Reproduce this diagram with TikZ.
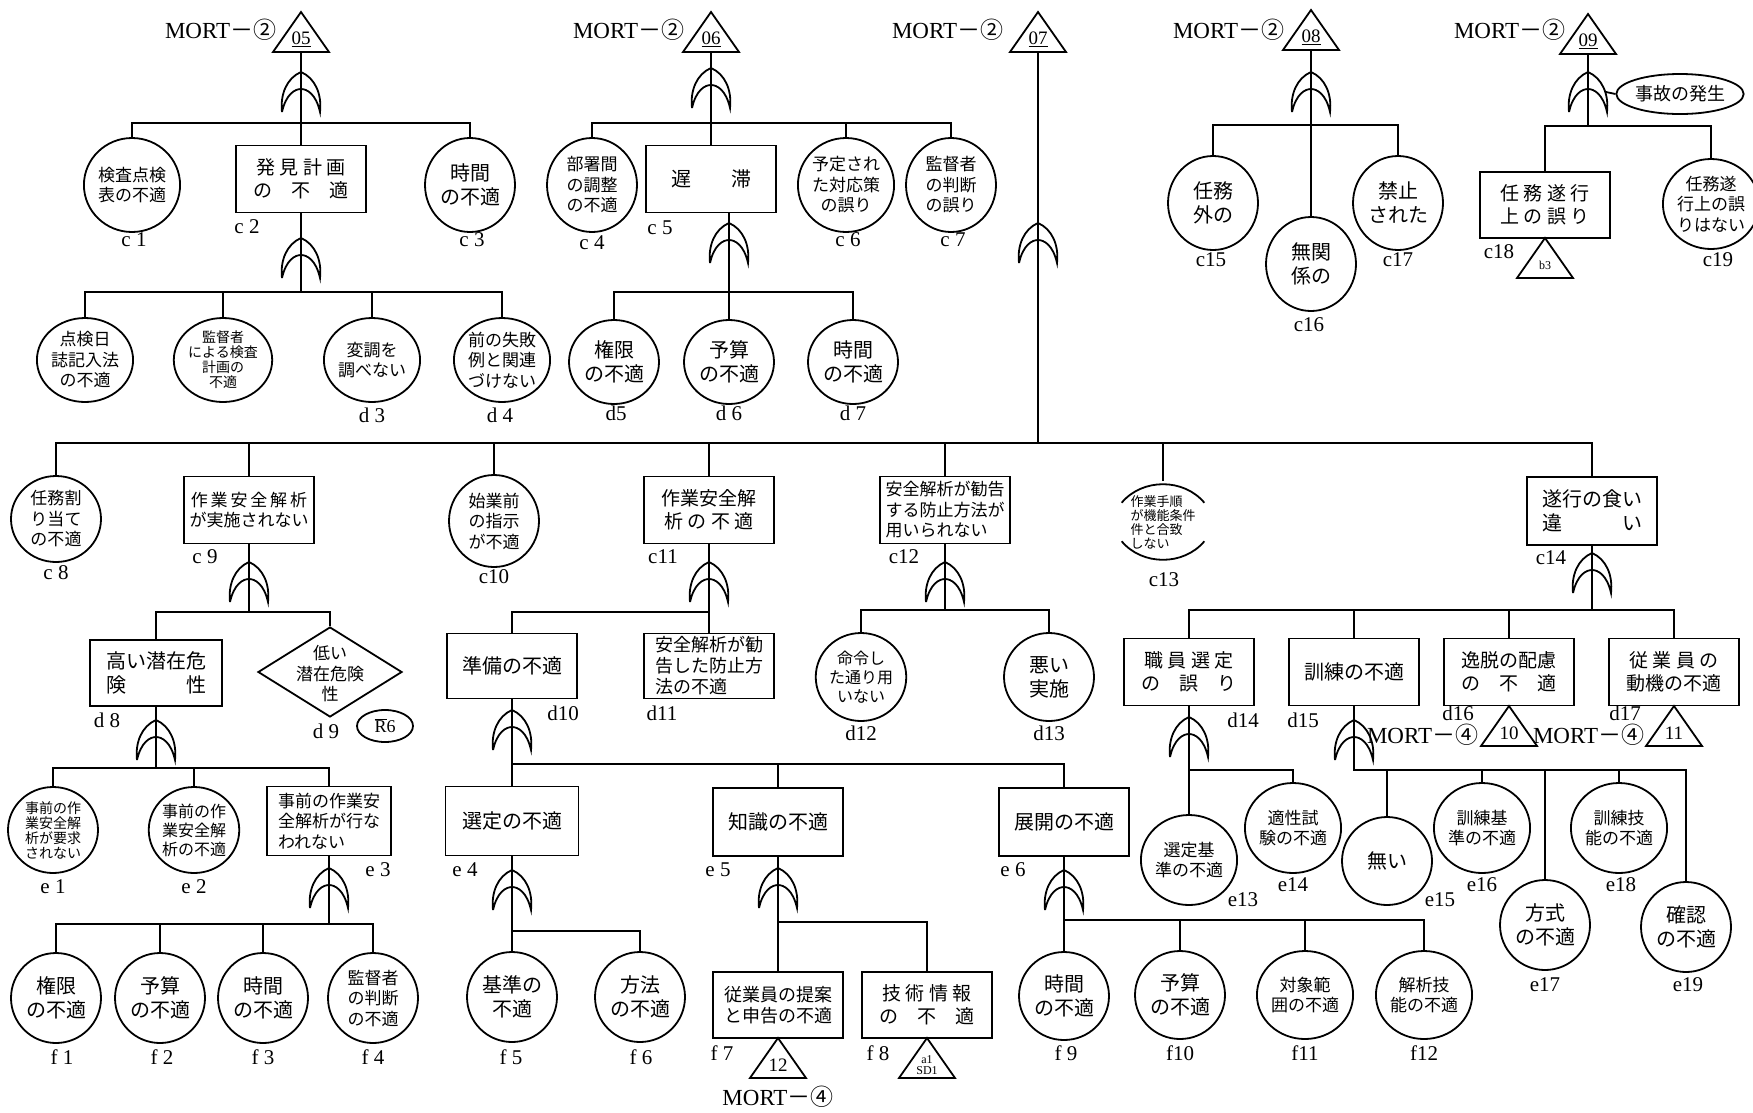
\documentclass[tikz,border=0pt]{standalone}
\usepackage{fontspec}
\setmainfont{Liberation Serif}
\newfontfamily\jp{Noto Sans CJK JP}
\usetikzlibrary{shapes.geometric}

\tikzset{
  ev/.style={ellipse,draw,inner sep=0pt,minimum width=90pt,minimum height=88pt,align=center},
  bx/.style={rectangle,draw,inner sep=2pt,minimum width=130pt,minimum height=67pt,align=center},
  lab/.style={inner sep=0pt,font=\fontsize{21}{21}\selectfont},
  mort/.style={inner sep=0pt,anchor=east,font=\fontsize{23}{23}\selectfont},
  j20/.style={font=\jp\fontsize{20}{24}\selectfont},
  j19/.style={font=\jp\fontsize{19}{23}\selectfont},
  j18/.style={font=\jp\fontsize{18}{21}\selectfont},
  j17/.style={font=\jp\fontsize{17}{20.5}\selectfont},
  j16/.style={font=\jp\fontsize{16}{19}\selectfont},
  j14/.style={font=\jp\fontsize{14}{15}\selectfont},
  j13/.style={font=\jp\fontsize{13}{14}\selectfont},
}

\begin{document}
\begin{tikzpicture}[x=1pt,y=-1pt,line width=1.8pt]
\useasboundingbox (0,0) rectangle (1753,1112);
\newcommand{\orgate}[3]{%
  \coordinate (#1) at (#2,#3);
  \draw[shift={(#2,#3)}] (-19,40) .. controls (-21,22) and (-14,6) .. (0,0)
    .. controls (14,6) and (21,22) .. (19,40)
    .. controls (15,22) and (6,17) .. (0,17)
    .. controls (-6,17) and (-15,22) .. (-19,40);
}
\newcommand{\xfer}[4]{%
  \draw (#2,#3) -- ++(28,40) -- ++(-56,0) -- cycle;
  \coordinate (#1-b) at (#2,#3+40);
  \node[inner sep=0pt,font=\fontsize{19}{19}\selectfont] (#1) at (#2,#3+27) {#4};
}

% MORT-2 05
\xfer{t05}{301}{12}{\underline{05}}
\node[mort] (m05) at (277,30) {MORT{\jp －②}};
\orgate{g05}{301}{72}
\coordinate (b05) at (301,123);
\node[ev,j17,minimum height=94pt] (c1) at (132,185) {検査点検\\表の不適};
\node[bx,j19] (c2) at (301,179) {発 見 計 画\\の　不　適};
\node[ev,j20,minimum height=94pt] (c3) at (470,185) {時間\\の不適};
\draw (t05-b) -- (g05) -- (c2.north);
\draw (c1.north) |- (b05) -| (c3.north);
\node[lab] (lc1) at (134,240) {c~1};
\node[lab] (lc2) at (247,227) {c~2};
\node[lab] (lc3) at (472,240) {c~3};

\orgate{gc2}{301}{238}
\coordinate (bc2) at (301,292);
\node[ev,j17,minimum height=84pt] (d1) at (85,360) {点検日\\誌記入法\\の不適};
\node[ev,j14,minimum height=84pt] (d2) at (223,360) {監督者\\による検査\\計画の\\不適};
\node[ev,j17,minimum height=84pt] (d3) at (372,360) {変調を\\調べない};
\node[ev,j17,minimum height=84pt] (d4) at (502,360) {前の失敗\\例と関連\\づけない};
\draw (c2.south) -- (bc2);
\draw (d1.north) |- (bc2) -| (d4.north);
\draw (d2.north) -- (d2.north |- bc2);
\draw (d3.north) -- (d3.north |- bc2);
\node[lab] (ld3) at (372,415) {d~3};
\node[lab] (ld4) at (500,415) {d~4};

% MORT-2 06
\xfer{t06}{711}{12}{\underline{06}}
\node[mort] (m06) at (685,30) {MORT{\jp －②}};
\orgate{g06}{711}{68}
\coordinate (b06) at (711,123);
\node[ev,j17,minimum height=94pt] (c4) at (592,185) {部署間\\の調整\\の不適};
\node[bx,j20] (c5) at (711,179) {遅　　滞};
\node[ev,j17,minimum height=94pt] (c6) at (846,185) {予定され\\た対応策\\の誤り};
\node[ev,j17,minimum height=94pt] (c7) at (951,185) {監督者\\の判断\\の誤り};
\draw (t06-b) -- (g06) -- (c5.north);
\draw (c4.north) |- (b06) -| (c7.north);
\draw (c6.north) -- (c6.north |- b06);
\node[lab] (lc4) at (592,243) {c~4};
\node[lab] (lc5) at (660,228) {c~5};
\node[lab] (lc6) at (848,240) {c~6};
\node[lab] (lc7) at (953,240) {c~7};

\orgate{gc5}{729}{223}
\coordinate (bc5) at (729,292);
\node[ev,j20,minimum height=84pt] (d5) at (614,362) {権限\\の不適};
\node[ev,j20,minimum height=84pt] (d6) at (729,362) {予算\\の不適};
\node[ev,j20,minimum height=84pt] (d7) at (853,362) {時間\\の不適};
\draw (gc5 |- c5.south) -- (bc5);
\draw (d5.north) |- (bc5) -| (d7.north);
\draw (d6.north) -- (bc5);
\node[lab] (ld5) at (616,413) {d5};
\node[lab] (ld6) at (729,413) {d~6};
\node[lab] (ld7) at (853,413) {d~7};

% MORT-2 08
\xfer{t08}{1311}{10}{\underline{08}}
\node[mort] (m08) at (1285,30) {MORT{\jp －②}};
\orgate{g08}{1311}{72}
\coordinate (b08) at (1311,125);
\node[ev,j20,minimum height=94pt] (c15) at (1213,203) {任務\\外の};
\node[ev,j20,minimum height=94pt] (c16) at (1311,264) {無関\\係の};
\node[ev,j20,minimum height=94pt] (c17) at (1398,203) {禁止\\された};
\draw (t08-b) -- (g08) -- (c16.north);
\draw (c15.north) |- (b08) -| (c17.north);
\node[lab] (lc15) at (1211,260) {c15};
\node[lab] (lc16) at (1309,325) {c16};
\node[lab] (lc17) at (1398,260) {c17};

% MORT-2 09
\xfer{t09}{1588}{14}{\underline{09}}
\node[mort] (m09) at (1566,30) {MORT{\jp －②}};
\orgate{g09}{1588}{72}
\coordinate (b09) at (1588,126);
\coordinate (g09r) at (1606,92);
\node[ellipse,draw,inner sep=0pt,minimum width=106pt,minimum height=40pt,j18] (acc) at (1680,94) {事故の発生};
\node[bx,j19,minimum height=66pt] (c18) at (1545,205) {任 務 遂 行\\上 の 誤 り};
\node[ev,j17,minimum width=80pt,minimum height=90pt] (c19) at (1711,204) {任務遂\\行上の誤\\りはない};
\draw (t09-b) -- (g09) -- (b09);
\draw (g09r) -- (acc.west);
\draw (c18.north) |- (b09) -| (c19.north);
\xfer{tb3}{1545}{238}{\fontsize{12}{12}\selectfont b3}
\node[lab] (lc18) at (1499,252) {c18};
\node[lab] (lc19) at (1718,260) {c19};

% MORT-2 07, main branch
\xfer{t07}{1038}{12}{\underline{07}}
\node[mort] (m07) at (1004,30) {MORT{\jp －②}};
\orgate{g07}{1038}{223}
\coordinate (bm) at (1038,443);
\draw (t07-b) -- (g07) -- (bm);
\node[ev,j17,minimum height=86pt] (c8) at (56,519) {任務割\\り当て\\の不適};
\node[bx,j17] (c9) at (249,510) {作\,業\,安\,全\,解\,析\\が実施されない};
\node[ev,j17,minimum height=92pt] (c10) at (494,521) {始業前\\の指示\\が不適};
\node[bx,j19] (c11) at (709,510) {作業安全解\\析\ の\ 不\ 適};
\node[bx,j17,align=left] (c12) at (945,510) {安全解析が勧告\\する防止方法が\\用いられない};
\node[ellipse,inner sep=0pt,minimum width=68pt,minimum height=80pt,j13,align=left] (c13) at (1163,522) {作業手順\\が機能条件\\件と合致\\しない};
\node[bx,j20,minimum height=68pt] (c14) at (1592,511) {遂行の食い\\違　　　い};
\draw (c13.155) to[bend left=50] (c13.25);
\draw (c13.205) to[bend right=50] (c13.335);
\draw (c8.north) |- (bm) -| (c14.north);
\foreach \n in {c9,c10,c11,c12,c13}
  \draw (\n.north) -- (\n.north |- bm);
\node[lab] (lc8) at (56,573) {c~8};
\node[lab] (lc9) at (205,557) {c~9};
\node[lab] (lc10) at (494,577) {c10};
\node[lab] (lc11) at (663,557) {c11};
\node[lab] (lc12) at (904,557) {c12};
\node[lab] (lc13) at (1164,580) {c13};
\node[lab] (lc14) at (1551,558) {c14};

% c9 branch
\orgate{gc9}{249}{562}
\coordinate (bc9) at (249,612);
\node[bx,j20,minimum width=132pt,minimum height=66pt] (d8) at (156,673) {高い潜在危\\険　　　性};
\node[diamond,draw,inner sep=0pt,minimum width=144pt,minimum height=90pt] (d9) at (330,672) {};
\node[j17,align=center,inner sep=0pt] (d9t) at (330,674) {低い\\潜在危険\\性};
\node[ellipse,draw,inner sep=0pt,minimum width=56pt,minimum height=32pt,font=\fontsize{18}{18}\selectfont] (r6) at (385,726) {\(\overline{\mbox{R}}\)6};
\draw (c9.south) -- (bc9);
\draw (d8.north) |- (bc9) -| (d9.north);
\node[lab] (ld8) at (107,720) {d~8};
\node[lab] (ld9) at (326,731) {d~9};

\orgate{gd8}{156}{720}
\coordinate (bd8) at (156,768);
\node[ev,j14,minimum height=86pt] (e1) at (53,830) {事前の作\\業安全解\\析が要求\\されない};
\node[ev,j16,minimum height=86pt] (e2) at (194,830) {事前の作\\業安全解\\析の不適};
\node[bx,j17,align=left,minimum width=124pt,minimum height=69pt] (e3) at (329,821) {事前の作業安\\全解析が行な\\われない};
\draw (d8.south) -- (bd8);
\draw (e1.north) |- (bd8) -| (e3.north);
\draw (e2.north) -- (e2.north |- bd8);
\node[lab] (le1) at (53,887) {e~1};
\node[lab] (le2) at (194,887) {e~2};
\node[lab] (le3) at (378,870) {e~3};

\orgate{ge3}{329}{868}
\coordinate (be3) at (329,924);
\node[ev,j20,minimum height=90pt] (f1) at (56,998) {権限\\の不適};
\node[ev,j20,minimum height=90pt] (f2) at (160,998) {予算\\の不適};
\node[ev,j20,minimum height=90pt] (f3) at (263,998) {時間\\の不適};
\node[ev,j17,minimum height=90pt] (f4) at (373,998) {監督者\\の判断\\の不適};
\draw (e3.south) -- (be3);
\draw (f1.north) |- (be3) -| (f4.north);
\draw (f2.north) -- (f2.north |- be3);
\draw (f3.north) -- (f3.north |- be3);
\node[lab] (lf1) at (62,1057) {f~1};
\node[lab] (lf2) at (162,1057) {f~2};
\node[lab] (lf3) at (263,1057) {f~3};
\node[lab] (lf4) at (373,1057) {f~4};

% c11 branch
\orgate{gc11}{709}{562}
\coordinate (bc11) at (709,612);
\node[bx,j20,minimum height=65pt] (d10) at (512,666) {準備の不適};
\node[bx,j18,align=left,minimum height=65pt] (d11) at (709,666) {安全解析が勧\\告した防止方\\法の不適};
\draw (c11.south) -- (d11.north);
\draw (d10.north) |- (bc11);
\node[lab] (ld10) at (563,713) {d10};
\node[lab] (ld11) at (662,713) {d11};

\orgate{gd10}{512}{710}
\coordinate (bd10) at (512,764);
\node[bx,j20,minimum width=133pt,minimum height=69pt] (e4) at (512,821) {選定の不適};
\node[bx,j20,minimum height=68pt] (e5) at (778,822) {知識の不適};
\node[bx,j20,minimum height=68pt] (e6) at (1064,822) {展開の不適};
\draw (d10.south) -- (e4.north);
\draw (bd10) -| (e6.north);
\draw (e5.north) -- (e5.north |- bd10);
\node[lab] (le4) at (465,870) {e~4};
\node[lab] (le5) at (718,870) {e~5};
\node[lab] (le6) at (1013,870) {e~6};

\orgate{ge4}{512}{870}
\coordinate (be4) at (512,931);
\node[ev,j20,minimum height=90pt] (f5) at (512,997) {基準の\\不適};
\node[ev,j20,minimum height=90pt] (f6) at (640,997) {方法\\の不適};
\draw (e4.south) -- (f5.north);
\draw (be4) -| (f6.north);
\node[lab] (lf5) at (511,1057) {f~5};
\node[lab] (lf6) at (641,1057) {f~6};

\orgate{ge5}{778}{868}
\coordinate (be5) at (778,922);
\node[bx,j18,minimum height=66pt] (f7) at (778,1005) {従業員の提案\\と申告の不適};
\node[bx,j19,minimum height=66pt] (f8) at (927,1005) {技 術 情 報\\の　不　適};
\draw (e5.south) -- (f7.north);
\draw (be5) -| (f8.north);
\xfer{t12}{778}{1038}{12}
\node[mort,anchor=center] (m12) at (778,1097) {MORT{\jp －④}};
\xfer{tsd}{927}{1038}{\fontsize{12}{12}\selectfont\shortstack{a1\\SD1}}
\node[lab] (lf7) at (722,1053) {f~7};
\node[lab] (lf8) at (878,1053) {f~8};

\orgate{ge6}{1064}{870}
\coordinate (be6) at (1064,920);
\node[ev,j20,minimum height=88pt] (f9) at (1064,996) {時間\\の不適};
\node[ev,j20,minimum height=88pt] (f10) at (1180,995) {予算\\の不適};
\node[ev,j17,minimum height=88pt] (f11) at (1305,995) {対象範\\囲の不適};
\node[ev,j17,minimum height=88pt] (f12) at (1424,995) {解析技\\能の不適};
\draw (e6.south) -- (f9.north);
\draw (be6) -| (f12.north);
\draw (f10.north) -- (f10.north |- be6);
\draw (f11.north) -- (f11.north |- be6);
\node[lab] (lf9) at (1066,1053) {f~9};
\node[lab] (lf10) at (1180,1053) {f10};
\node[lab] (lf11) at (1305,1053) {f11};
\node[lab] (lf12) at (1424,1053) {f12};

% c12 branch
\orgate{gc12}{945}{562}
\coordinate (bc12) at (945,610);
\node[ev,j16,minimum height=88pt] (d12) at (861,677) {命令し\\た通り用\\いない};
\node[ev,j20,minimum height=88pt] (d13) at (1049,677) {悪い\\実施};
\draw (c12.south) -- (bc12);
\draw (d12.north) |- (bc12) -| (d13.north);
\node[lab] (ld12) at (861,733) {d12};
\node[lab] (ld13) at (1049,733) {d13};

% c14 branch
\orgate{gc14}{1592}{553}
\coordinate (bc14) at (1592,610);
\node[bx,j19] (d14) at (1189,672) {職 員 選 定\\の　誤　り};
\node[bx,j20] (d15) at (1354,672) {訓練の不適};
\node[bx,j19] (d16) at (1509,672) {逸脱の配慮\\の　不　適};
\node[bx,j19] (d17) at (1674,672) {従 業 員 の\\動機の不適};
\draw (c14.south) -- (bc14);
\draw (d14.north) |- (bc14) -| (d17.north);
\draw (d15.north) -- (d15.north |- bc14);
\draw (d16.north) -- (d16.north |- bc14);
\xfer{t10}{1509}{706}{10}
\xfer{t11}{1674}{706}{11}
\node[mort] (m10) at (1479,735) {MORT{\jp －④}};
\node[mort] (m11) at (1645,735) {MORT{\jp －④}};
\node[lab] (ld14) at (1243,720) {d14};
\node[lab] (ld15) at (1303,720) {d15};
\node[lab] (ld16) at (1458,713) {d16};
\node[lab] (ld17) at (1625,713) {d17};

\orgate{gd14}{1189}{717}
\coordinate (bd14) at (1189,770);
\node[ev,j17,minimum height=90pt] (e13) at (1189,860) {選定基\\準の不適};
\node[ev,j17,minimum height=90pt] (e14) at (1293,828) {適性試\\験の不適};
\draw (d14.south) -- (e13.north);
\draw (bd14) -| (e14.north);
\node[lab] (le13) at (1243,900) {e13};
\node[lab] (le14) at (1293,885) {e14};

\orgate{gd15}{1354}{720}
\coordinate (bd15) at (1354,770);
\node[ev,j20,minimum height=88pt] (e15) at (1387,861) {無い};
\node[ev,j17,minimum height=90pt] (e16) at (1482,828) {訓練基\\準の不適};
\node[ev,j20,minimum height=90pt] (e17) at (1545,925) {方式\\の不適};
\node[ev,j17,minimum height=90pt] (e18) at (1619,828) {訓練技\\能の不適};
\node[ev,j20,minimum height=90pt] (e19) at (1686,927) {確認\\の不適};
\draw (d15.south) -- (bd15) -| (e19.north);
\foreach \n in {e15,e16,e17,e18}
  \draw (\n.north) -- (\n.north |- bd15);
\node[lab] (le15) at (1440,900) {e15};
\node[lab] (le16) at (1482,885) {e16};
\node[lab] (le17) at (1545,985) {e17};
\node[lab] (le18) at (1621,885) {e18};
\node[lab] (le19) at (1688,985) {e19};
\end{tikzpicture}
\end{document}
